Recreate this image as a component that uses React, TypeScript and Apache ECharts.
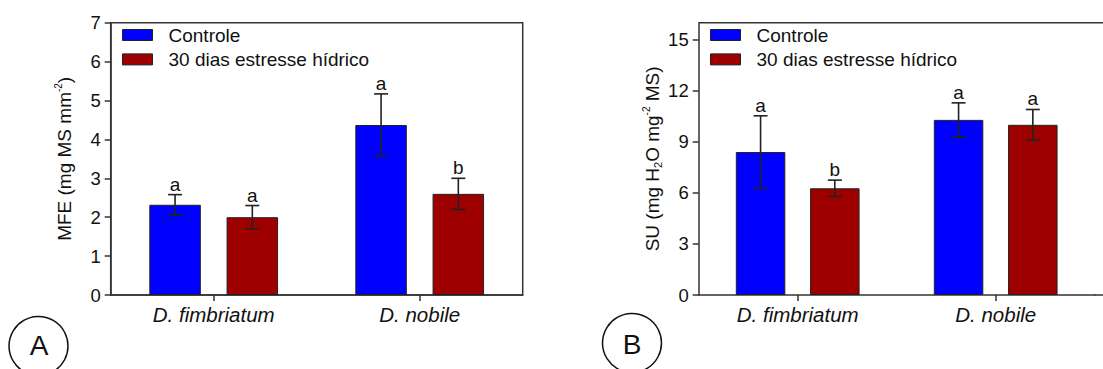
import React, { useEffect, useRef } from "react";
import * as echarts from "echarts";

const categories = ["D. fimbriatum", "D. nobile"];
const seriesNames = ["Controle", "30 dias estresse hídrico"];

// Panel A: MFE (mg MS mm-2)
const mfeControle = [2.32, 4.37];
const mfeControleErr = [0.26, 0.8];
const mfeControleLetters = ["a", "a"];
const mfeEstresse = [2.0, 2.6];
const mfeEstresseErr = [0.3, 0.4];
const mfeEstresseLetters = ["a", "b"];
const mfeTicks = { min: 0, max: 7, interval: 1 };

// Panel B: SU (mg H2O mg-2 MS)
const suControle = [8.4, 10.29];
const suControleErr = [2.13, 1.0];
const suControleLetters = ["a", "a"];
const suEstresse = [6.27, 10.0];
const suEstresseErr = [0.48, 0.9];
const suEstresseLetters = ["b", "a"];
const suTickValues = [0, 3, 6, 9, 12, 15];

const BLUE = "#0000FF";
const RED = "#9E0000";
const INK = "#222222";
const FONT = "'Liberation Sans', Arial, Helvetica, sans-serif";

function errSeries(
  gridIdx: number,
  means: number[],
  errs: number[],
  letters: string[],
  offsetFrac: number
) {
  return {
    type: "custom",
    xAxisIndex: gridIdx,
    yAxisIndex: gridIdx,
    z: 5,
    silent: true,
    data: means.map((m, i) => [i, m, errs[i]]),
    renderItem: (params: any, api: any) => {
      const cat = api.value(0);
      const mean = api.value(1);
      const e = api.value(2);
      const band = api.size([1, 0])[0];
      const x = api.coord([cat, mean])[0] + offsetFrac * band;
      const yTop = api.coord([cat, mean + e])[1];
      const yBot = api.coord([cat, mean - e])[1];
      const cap = 7;
      const ls = { stroke: INK, lineWidth: 1.6 };
      return {
        type: "group",
        children: [
          { type: "line", shape: { x1: x, y1: yTop, x2: x, y2: yBot }, style: ls },
          { type: "line", shape: { x1: x - cap, y1: yTop, x2: x + cap, y2: yTop }, style: ls },
          { type: "line", shape: { x1: x - cap, y1: yBot, x2: x + cap, y2: yBot }, style: ls },
          {
            type: "text",
            x: x,
            y: yTop - 1,
            style: {
              text: letters[params.dataIndex],
              fontSize: 19,
              fontFamily: FONT,
              fill: "#111",
              align: "center",
              verticalAlign: "bottom",
            },
          },
        ],
      };
    },
  };
}

function barSeries(gridIdx: number, name: string, data: number[], color: string) {
  return {
    type: "bar",
    name,
    xAxisIndex: gridIdx,
    yAxisIndex: gridIdx,
    data,
    barWidth: "25%",
    barGap: "50%",
    itemStyle: { color, borderColor: INK, borderWidth: 1 },
  };
}

export default function App() {
  const ref = useRef<HTMLDivElement>(null);

  useEffect(() => {
    if (!ref.current) return;
    const chart = echarts.init(ref.current, undefined, { renderer: "svg" });

    const axisLineStyle = { color: "#333", width: 1.5 };
    const xAxisCommon = {
      type: "category",
      data: categories,
      axisLine: { show: true, lineStyle: axisLineStyle },
      axisTick: { show: true, alignWithLabel: true, length: 6, lineStyle: axisLineStyle },
      axisLabel: {
        fontSize: 20.5,
        fontStyle: "italic",
        fontFamily: FONT,
        color: "#111",
        margin: 9,
      },
      splitLine: { show: false },
    };
    const yLabel = { fontSize: 18.5, fontFamily: FONT, color: "#111", margin: 10 };
    const nameRich = {
      t: { fontSize: 19, fontFamily: FONT, color: "#111", lineHeight: 22 },
      sup: { fontSize: 10, fontFamily: FONT, color: "#111", lineHeight: 10, verticalAlign: "top" },
      sub: { fontSize: 11, fontFamily: FONT, color: "#111", lineHeight: 10, verticalAlign: "bottom" },
    };

    const legendCommon = {
      orient: "vertical",
      top: 25,
      itemWidth: 30,
      itemHeight: 11,
      itemGap: 4.4,
      padding: 0,
      icon: "rect",
      data: seriesNames,
      itemStyle: { borderColor: INK, borderWidth: 1 },
      textStyle: {
        fontSize: 19,
        fontFamily: FONT,
        color: "#111",
        lineHeight: 20,
        padding: [0, 0, 0, 11],
      },
      selectedMode: false,
    };

    const option: any = {
      animation: false,
      backgroundColor: "#fff",
      grid: [
        {
          left: 110.7,
          top: 22.7,
          width: 412,
          height: 272.3,
          show: true,
          borderColor: "#333",
          borderWidth: 1.5,
          backgroundColor: "transparent",
        },
        { left: 698.7, top: 22.7, width: 396, height: 272.3 },
      ],
      legend: [
        { ...legendCommon, left: 122 },
        { ...legendCommon, left: 710 },
      ],
      xAxis: [
        { ...xAxisCommon, gridIndex: 0 },
        { ...xAxisCommon, gridIndex: 1 },
      ],
      yAxis: [
        {
          type: "value",
          gridIndex: 0,
          min: mfeTicks.min,
          max: mfeTicks.max,
          interval: mfeTicks.interval,
          axisLine: { show: true, lineStyle: axisLineStyle },
          axisTick: { show: true, inside: false, length: 6, lineStyle: axisLineStyle },
          axisLabel: yLabel,
          splitLine: { show: false },
          name: "{t|MFE (mg MS mm}{sup|-2}{t|)}",
          nameLocation: "middle",
          nameRotate: 90,
          nameGap: 35,
          nameTextStyle: { rich: nameRich },
        },
        {
          type: "value",
          gridIndex: 1,
          min: 0,
          max: 16,
          interval: 3,
          axisLine: { show: true, lineStyle: axisLineStyle },
          axisTick: {
            show: true,
            inside: false,
            length: 6,
            lineStyle: axisLineStyle,
            customValues: suTickValues,
          },
          axisLabel: { ...yLabel, customValues: suTickValues },
          splitLine: { show: false },
          name: "{t|SU (mg H}{sub|2}{t|O mg}{sup|-2}{t| MS)}",
          nameLocation: "middle",
          nameRotate: 90,
          nameGap: 35,
          nameTextStyle: { rich: nameRich },
        },
      ],
      series: [
        barSeries(0, seriesNames[0], mfeControle, BLUE),
        barSeries(0, seriesNames[1], mfeEstresse, RED),
        barSeries(1, seriesNames[0], suControle, BLUE),
        barSeries(1, seriesNames[1], suEstresse, RED),
        errSeries(0, mfeControle, mfeControleErr, mfeControleLetters, -0.1875),
        errSeries(0, mfeEstresse, mfeEstresseErr, mfeEstresseLetters, 0.1875),
        errSeries(1, suControle, suControleErr, suControleLetters, -0.1875),
        errSeries(1, suEstresse, suEstresseErr, suEstresseLetters, 0.1875),
      ],
      graphic: [
        {
          type: "line",
          shape: { x1: 698.7, y1: 22.7, x2: 1103, y2: 22.7 },
          style: { stroke: "#333", lineWidth: 1.5 },
          z: 10,
        },
        {
          type: "line",
          shape: { x1: 1094, y1: 295, x2: 1103, y2: 295 },
          style: { stroke: "#333", lineWidth: 1.5 },
          z: 10,
        },
        {
          type: "circle",
          shape: { cx: 38.5, cy: 346, r: 29.5 },
          style: { fill: "none", stroke: "#111", lineWidth: 1.5 },
        },
        {
          type: "text",
          x: 39,
          y: 345,
          style: {
            text: "A",
            fontSize: 28,
            fontFamily: FONT,
            fill: "#111",
            align: "center",
            verticalAlign: "middle",
          },
        },
        {
          type: "circle",
          shape: { cx: 632, cy: 343, r: 29.5 },
          style: { fill: "none", stroke: "#111", lineWidth: 1.5 },
        },
        {
          type: "text",
          x: 632,
          y: 344,
          style: {
            text: "B",
            fontSize: 28,
            fontFamily: FONT,
            fill: "#111",
            align: "center",
            verticalAlign: "middle",
          },
        },
      ],
    };

    chart.setOption(option);
    return () => chart.dispose();
  }, []);

  return (
    <div
      ref={ref}
      style={{ position: "fixed", left: 0, top: 0, width: 1103, height: 369, background: "#fff" }}
    />
  );
}
